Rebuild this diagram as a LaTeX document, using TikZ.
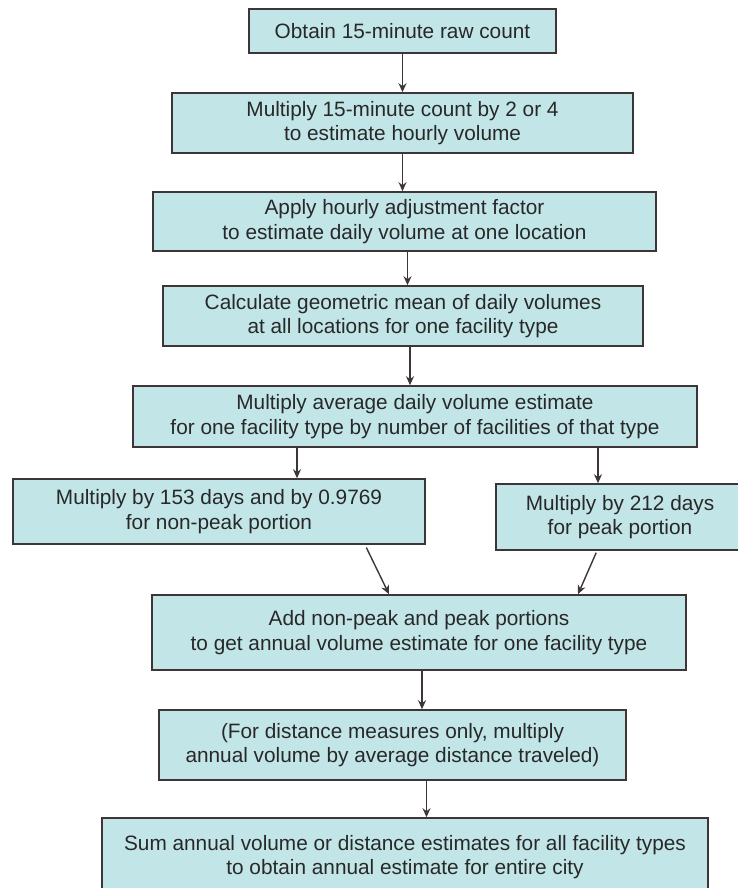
\documentclass[tikz,border=0pt]{standalone}
\usepackage{fontspec}
\setmainfont{Liberation Sans}
\usepackage{xcolor}
\usepackage{tikz}
\usetikzlibrary{arrows.meta}

\definecolor{boxfill}{RGB}{194,229,232}
\definecolor{boxline}{RGB}{62,54,54}
\definecolor{boxtext}{RGB}{40,40,40}

\begin{document}
\begin{tikzpicture}[x=1pt, y=-1pt,
  stepbox/.style={draw=boxline, fill=boxfill, line width=1.6pt, align=center, inner sep=0pt,
    text=boxtext, font=\fontsize{20.8}{24.5}\selectfont},
  flow/.style={color=boxline, line width=1.4pt, -{Stealth[length=9pt,width=8pt]}}]
\clip (0,0) rectangle (738,888);

\node[stepbox, minimum width=307, minimum height=44] (obtain) at (402.5,31) {Obtain 15-minute raw count};
\node[stepbox, minimum width=461, minimum height=60] (hourly) at (402.5,123) {Multiply 15-minute count by 2 or 4\\to estimate hourly volume};
\node[stepbox, minimum width=503, minimum height=59] (daily) at (404.5,221.5) {Apply hourly adjustment factor\\to estimate daily volume at one location};
\node[stepbox, minimum width=480, minimum height=60] (mean) at (403,316) {Calculate geometric mean of daily volumes\\at all locations for one facility type};
\node[stepbox, minimum width=564, minimum height=61] (average) at (415,416.5) {Multiply average daily volume estimate\\for one facility type by number of facilities of that type};
\node[stepbox, minimum width=412, minimum height=65] (nonpeak) at (219,511.5) {Multiply by 153 days and by 0.9769\\for non-peak portion};
\node[stepbox, minimum width=248, minimum height=66] (peak) at (620,517) {Multiply by 212 days\\for peak portion};
\node[stepbox, minimum width=534, minimum height=75] (annual) at (419,632.5) {Add non-peak and peak portions\\to get annual volume estimate for one facility type};
\node[stepbox, minimum width=467, minimum height=70] (distance) at (392.5,745) {(For distance measures only, multiply\\annual volume by average distance traveled)};
\node[stepbox, minimum width=606, minimum height=78] (citywide) at (405,857) {Sum annual volume or distance estimates for all facility types\\to obtain annual estimate for entire city};

\draw[flow] (obtain.south) -- (hourly.north);
\draw[flow] (hourly.south) -- (hourly.south |- daily.north);
\draw[flow] ([xshift=3]daily.south) -- ([xshift=3]daily.south |- mean.north);
\draw[flow] ([xshift=7]mean.south) -- ([xshift=7]mean.south |- average.north);
\draw[flow] ([xshift=-118]average.south) -- ([xshift=-118]average.south |- nonpeak.north);
\draw[flow] ([xshift=183]average.south) -- ([xshift=183]average.south |- peak.north);
\draw[flow, shorten <=3pt] ([xshift=146]nonpeak.south) -- ([xshift=-30]annual.north);
\draw[flow, shorten <=2pt] ([xshift=-23]peak.south) -- ([xshift=159]annual.north);
\draw[flow] ([xshift=3]annual.south) -- ([xshift=3]annual.south |- distance.north);
\draw[flow] ([xshift=34]distance.south) -- ([xshift=34]distance.south |- citywide.north);
\end{tikzpicture}
\end{document}
